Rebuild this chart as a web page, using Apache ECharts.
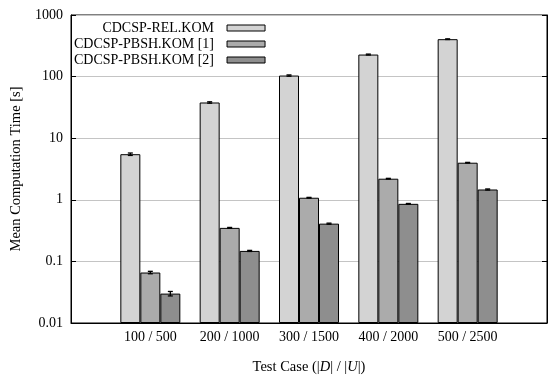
<!DOCTYPE html>
<html>
<head>
<meta charset="utf-8">
<script src="https://cdn.jsdelivr.net/npm/echarts@6/dist/echarts.min.js"></script>
<style>
html, body { margin: 0; padding: 0; background: #fff; }
#main { width: 548px; height: 376px; }
</style>
</head>
<body>
<div id="main"></div>
<script>
// test cases (|D| / |U|)
var cases = ['100 / 500', '200 / 1000', '300 / 1500', '400 / 2000', '500 / 2500'];
var seriesNames = ['CDCSP-REL.KOM', 'CDCSP-PBSH.KOM [1]', 'CDCSP-PBSH.KOM [2]'];

// mean computation time [s]
var relKom = [5.5, 38, 104, 228, 405];
var pbsh1 = [0.066, 0.35, 1.08, 2.2, 4.0];
var pbsh2 = [0.03, 0.148, 0.41, 0.86, 1.47];

// error (+/-)
var relErr = [0.25, 1.0, 2.5, 4, 5];
var pbsh1Err = [0.003, 0.006, 0.015, 0.03, 0.05];
var pbsh2Err = [0.0025, 0.003, 0.008, 0.012, 0.03];

var yTicks = [0.01, 0.1, 1, 10, 100, 1000];
var colors = ['#d3d3d3', '#ababab', '#8e8e8e'];

var font = 'Liberation Serif';
var chart = echarts.init(document.getElementById('main'));

var values = [relKom, pbsh1, pbsh2];
var errors = [relErr, pbsh1Err, pbsh2Err];
var offsets = [-20, 0, 20];

var series = [];
for (var s = 0; s < 3; s++) {
	series.push({
		name: seriesNames[s],
		type: 'bar',
		barWidth: 20,
		barGap: '0%',
		itemStyle: { color: colors[s], borderColor: '#000', borderWidth: 1 },
		data: values[s].map(function(v, i) { return [i + 1, v]; })
	});
}
for (var s = 0; s < 3; s++) {
	(function(s) {
		series.push({
			type: 'custom',
			silent: true,
			z: 5,
			renderItem: function(params, api) {
				var lo = api.coord([api.value(0), api.value(1)]);
				var hi = api.coord([api.value(0), api.value(2)]);
				var x = lo[0] + offsets[s];
				var st = { stroke: '#000', lineWidth: 1.3 };
				return {
					type: 'group',
					children: [
						{ type: 'line', shape: { x1: x, y1: lo[1], x2: x, y2: hi[1] }, style: st },
						{ type: 'line', shape: { x1: x - 2.5, y1: lo[1], x2: x + 2.5, y2: lo[1] }, style: st },
						{ type: 'line', shape: { x1: x - 2.5, y1: hi[1], x2: x + 2.5, y2: hi[1] }, style: st }
					]
				};
			},
			data: values[s].map(function(v, i) { return [i + 1, v - errors[s][i], v + errors[s][i]]; })
		});
	})(s);
}

var yBase = {
	type: 'log',
	min: 0.01,
	max: 1000,
	logBase: 10,
	startValue: 0.01
};

chart.setOption({
	animation: false,
	backgroundColor: '#fff',
	textStyle: { fontFamily: font },
	grid: {
		left: 71, right: 1, top: 15, bottom: 53,
		outerBoundsMode: 'none',
		containLabel: false,
		show: true, borderColor: '#000', borderWidth: 1,
		backgroundColor: 'transparent'
	},
	legend: {
		left: 69,
		top: 16,
		orient: 'vertical',
		align: 'right',
		itemWidth: 38,
		itemHeight: 6,
		itemGap: 2,
		icon: 'rect',
		data: seriesNames,
		itemStyle: { borderColor: '#000', borderWidth: 1 },
		textStyle: {
			fontFamily: font, fontSize: 14, color: '#000',
			width: 138, lineHeight: 14, padding: [0, 8, 0, 0]
		}
	},
	xAxis: {
		type: 'category',
		boundaryGap: false,
		data: [''].concat(cases).concat(['']),
		axisLine: { lineStyle: { color: '#000', width: 1 } },
		axisTick: { show: false },
		axisLabel: { color: '#000', fontSize: 14, fontFamily: font, margin: 7 },
		name: 'Test Case (|{i|D}| / |{i|U}|)',
		nameLocation: 'middle',
		nameGap: 37,
		nameTextStyle: {
			color: '#000', fontSize: 14.5, fontFamily: font,
			rich: { i: { fontStyle: 'italic', fontSize: 14.5, fontFamily: font, color: '#000' } }
		}
	},
	yAxis: [
		Object.assign({}, yBase, {
			position: 'left',
			axisLine: { show: true, lineStyle: { color: '#000' } },
			axisTick: { show: true, inside: true, length: 5, lineStyle: { color: '#000' } },
			axisLabel: {
				color: '#000', fontSize: 14, fontFamily: font, margin: 8,
				formatter: function(v) {
					var best = yTicks.reduce(function(a, b) { return Math.abs(Math.log(b / v)) < Math.abs(Math.log(a / v)) ? b : a; });
					return String(best);
				}
			},
			splitLine: { show: true, lineStyle: { color: '#c4c4c4', width: 1 } },
			name: 'Mean Computation Time [s]',
			nameLocation: 'middle',
			nameGap: 43,
			nameTextStyle: { color: '#000', fontSize: 14.5, fontFamily: font }
		}),
		Object.assign({}, yBase, {
			position: 'right',
			axisLine: { show: true, lineStyle: { color: '#000' } },
			axisTick: { show: true, inside: true, length: 5, lineStyle: { color: '#000' } },
			axisLabel: { show: false },
			splitLine: { show: false }
		})
	],
	series: series
});
</script>
</body>
</html>
